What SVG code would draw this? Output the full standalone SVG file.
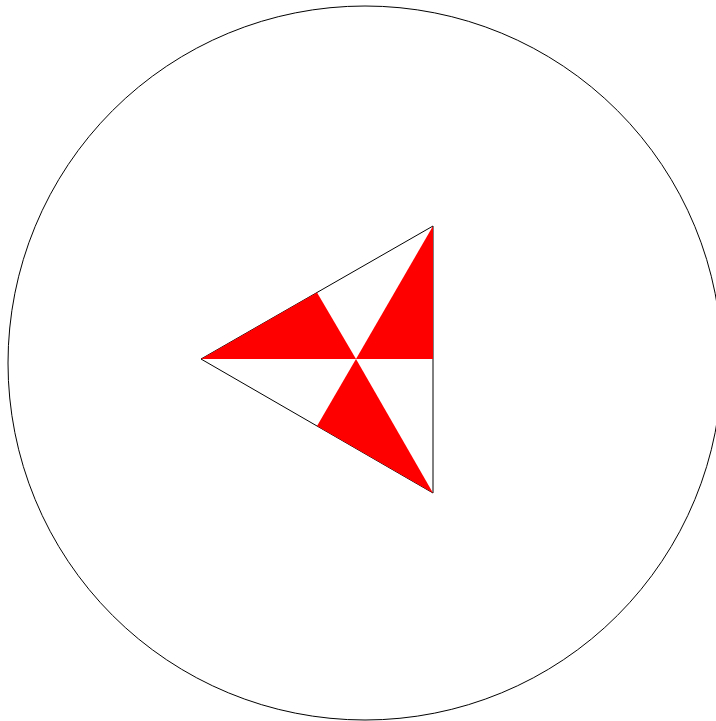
<svg xmlns="http://www.w3.org/2000/svg" width="716" height="721" viewBox="0 0 716 721">
<style>
.red{fill:#ff0000;stroke:none}
.edge{fill:none;stroke:#000;stroke-width:1}
</style>
<rect width="716" height="721" fill="#fff"/>
<g id="circle"><circle cx="365" cy="363" r="357" class="edge"/></g>
<g id="triangle">
<polygon class="edge" points="433,226 201,359 433,493"/>
<polygon class="red" points="201,359 317,292.5 356,359"/>
<polygon class="red" points="433,226 356,359 433,359"/>
<polygon class="red" points="317,426 356,359 433,493"/>
</g>
</svg>
